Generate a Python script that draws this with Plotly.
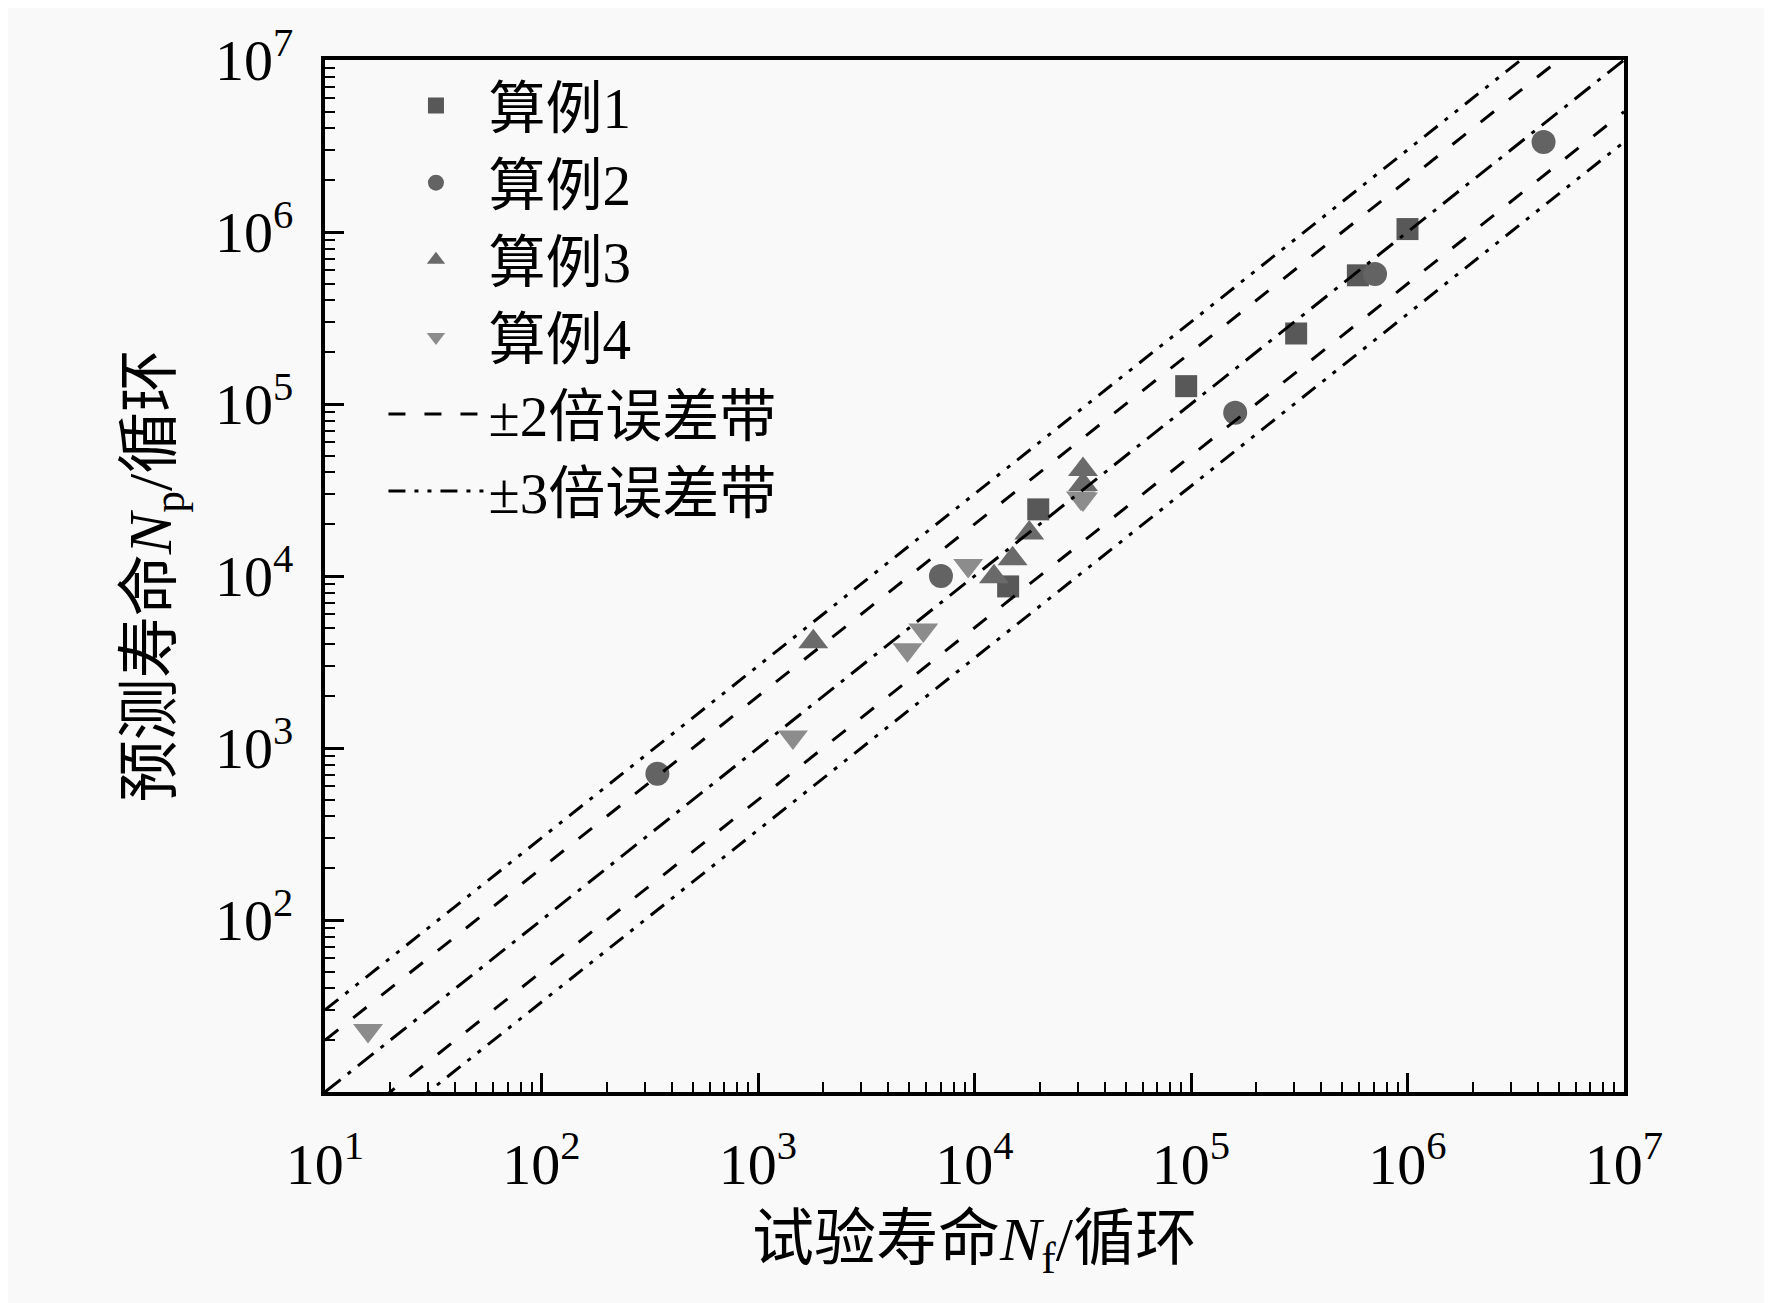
import plotly.graph_objects as go

# test life Nf (x) vs predicted life Np (y)
case1_x = [9.5e4, 3.06e5, 5.9e5, 1.0e6, 1.97e4, 1.43e4]
case1_y = [1.27e5, 2.57e5, 5.6e5, 1.04e6, 2.44e4, 8.7e3]

case2_x = [343, 7.0e3, 1.6e5, 7.08e5, 4.25e6]
case2_y = [708, 1.0e4, 8.9e4, 5.7e5, 3.34e6]

case3_x = [1.8e3, 1.23e4, 1.5e4, 1.79e4, 3.17e4, 3.17e4]
case3_y = [4.15e3, 9.9e3, 1.26e4, 1.78e4, 4.16e4, 3.4e4]

case4_x = [15.8, 1.45e3, 4.9e3, 5.8e3, 9.35e3, 3.1e4, 3.17e4]
case4_y = [22.8, 1.16e3, 3.73e3, 4.86e3, 1.15e4, 2.84e4, 2.8e4]

line_x = [10, 1e7]
band_factors = {"1": [1], "2": [2, 1 / 2], "3": [3, 1 / 3]}

x_tick_vals = [10, 100, 1e3, 1e4, 1e5, 1e6, 1e7]
x_tick_text = ["10<sup>%d</sup>" % i for i in range(1, 8)]
y_tick_vals = [100, 1e3, 1e4, 1e5, 1e6, 1e7]
y_tick_text = ["10<sup>%d</sup>" % i for i in range(2, 8)]

FONT = "Liberation Serif, Times New Roman, Noto Sans CJK SC"

fig = go.Figure()

markers = [
    ("算例1", case1_x, case1_y, "square", "#585858", 22),
    ("算例2", case2_x, case2_y, "circle", "#636363", 24),
    ("算例3", case3_x, case3_y, "triangle-up", "#6a6a6a", 26),
    ("算例4", case4_x, case4_y, "triangle-down", "#8c8c8c", 26),
]
for name, xs, ys, sym, col, sz in markers:
    fig.add_trace(go.Scatter(x=xs, y=ys, name=name, mode="markers",
                             marker=dict(symbol=sym, size=sz, color=col,
                                         line=dict(width=0))))

# y = x line, then the +-2 and +-3 bands (drawn over the markers)
fig.add_trace(go.Scatter(x=line_x, y=[v * 1 for v in line_x], mode="lines",
                         showlegend=False,
                         line=dict(color="black", width=3, dash="20px,9px,4px,9px")))
for i, k in enumerate(band_factors["2"]):
    fig.add_trace(go.Scatter(x=line_x, y=[v * k for v in line_x], mode="lines",
                             name="±2倍误差带", legendgroup="b2", showlegend=(i == 0),
                             line=dict(color="black", width=3, dash="17px,19px")))
for i, k in enumerate(band_factors["3"]):
    fig.add_trace(go.Scatter(x=line_x, y=[v * k for v in line_x], mode="lines",
                             name="±3倍误差带", legendgroup="b3", showlegend=(i == 0),
                             line=dict(color="black", width=3,
                                       dash="17px,9px,4px,9px,4px,9px")))

axis_common = dict(
    type="log", range=[1, 7],
    ticks="inside", ticklen=19, tickwidth=3, tickcolor="black",
    minor=dict(ticks="inside", ticklen=10, tickwidth=2, tickcolor="black", dtick="D1"),
    showline=True, linewidth=4, linecolor="black", mirror=True,
    showgrid=False, zeroline=False,
    tickfont=dict(family=FONT, size=58, color="black"),
)

fig.update_xaxes(**axis_common,
                 tickvals=x_tick_vals, ticktext=x_tick_text,
                 ticklabelstandoff=18,
                 title=dict(text="试验寿命<i>N</i><sub>f</sub>/循环",
                            font=dict(family=FONT, size=62, color="black"),
                            standoff=22))
fig.update_yaxes(**axis_common,
                 tickvals=y_tick_vals, ticktext=y_tick_text,
                 ticklabelstandoff=16,
                 title=dict(text="预测寿命<i>N</i><sub>p</sub>/循环",
                            font=dict(family=FONT, size=62, color="black"),
                            standoff=24))

fig.update_layout(
    width=1772, height=1303,
    margin=dict(l=317, r=156, t=41, b=219),
    paper_bgcolor="#f9f9f9", plot_bgcolor="#f9f9f9",
    showlegend=True,
    legend=dict(x=0.045, y=0.998, xanchor="left", yanchor="top",
                bgcolor="rgba(0,0,0,0)", borderwidth=0,
                font=dict(family=FONT, size=57, color="black"),
                itemwidth=95, tracegroupgap=0),
)

fig.write_html("out.html")
